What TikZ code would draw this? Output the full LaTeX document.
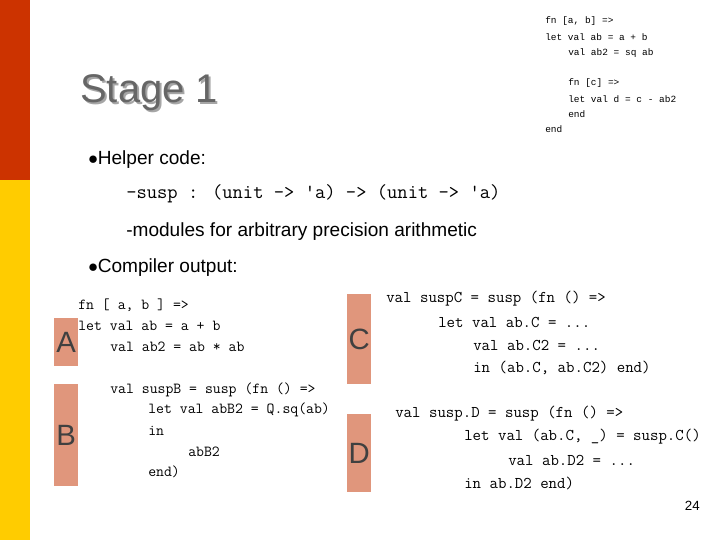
\documentclass[tikz,border=0pt]{standalone}
\usepackage{fontspec}
\setmainfont{Liberation Sans}
\setmonofont{Liberation Mono}
\newfontfamily\cm{Latin Modern Mono}
\definecolor{barred}{HTML}{CC3300}
\definecolor{baryel}{HTML}{FFCC00}
\definecolor{lbl}{HTML}{E0967C}
\begin{document}
\begin{tikzpicture}[x=0.75pt,y=-0.75pt,
  code/.style={anchor=west,inner sep=0,font=\cm\fontsize{11.5}{12}\selectfont},
  rcode/.style={anchor=west,inner sep=0,font=\cm\fontsize{12.3}{13}\selectfont},
  small/.style={anchor=west,inner sep=0,font=\ttfamily\fontsize{7.1}{8}\selectfont},
  body/.style={anchor=west,inner sep=0,font=\fontsize{14.3}{16}\selectfont},
  lab/.style={fill=lbl,inner sep=0,anchor=north west},
  labt/.style={font=\fontsize{22}{24}\selectfont,text=black!75}]
\useasboundingbox (0,0) rectangle (720,540);
\fill[barred] (0,0) rectangle (30,180);
\fill[baryel] (0,180) rectangle (30,540);
% title
\node[anchor=west,inner sep=0,text=black!35,font=\fontsize{30}{32}\selectfont] (sh) at (82,95) {Stage 1};
\node[anchor=west,inner sep=0,text=black!60,font=\fontsize{30}{32}\selectfont] (title) at (80,93) {Stage 1};
% top right code
\node[small] (r1) at (545,21) {fn [a, b] =>};
\node[small] (r2) at (545,37) {let val ab = a + b};
\node[small] (r3) at (568,53) {val ab2 = sq ab};
\node[small] (r4) at (568,83) {fn [c] =>};
\node[small] (r5) at (568,99) {let val d = c - ab2};
\node[small] (r6) at (568,114) {end};
\node[small] (r7) at (545,129) {end};
% bullets
\node[body] (b1) at (88,160) {$\bullet$Helper code:};
\node[anchor=west,inner sep=0,font=\cm\fontsize{15}{17}\selectfont] (hc) at (126,194) {-susp : (unit -> 'a) -> (unit -> 'a)};
\node[body] (m) at (126,232) {-modules for arbitrary precision arithmetic};
\node[body] (b2) at (88,268) {$\bullet$Compiler output:};
% labels
\node[lab,minimum width=18pt,minimum height=36pt] (A) at (54,318) {};
\node[labt] at (A.center) {A};
\node[lab,minimum width=18pt,minimum height=76.5pt] (B) at (54,384) {};
\node[labt] at (B.center) {B};
\node[lab,minimum width=18pt,minimum height=67.5pt] (C) at (347,294) {};
\node[labt] at (C.center) {C};
\node[lab,minimum width=18pt,minimum height=58.5pt] (D) at (347,414) {};
\node[labt] at (D.center) {D};
% left code
\node[code] (a1) at (78,305) {fn [ a, b ] =>};
\node[code] (a2) at (78,326) {let val ab = a + b};
\node[code] (a3) at (110,347) {val ab2 = ab * ab};
\node[code] (b1c) at (110,390) {val suspB = susp (fn () =>};
\node[code] (b2c) at (148,410) {let val abB2 = Q.sq(ab)};
\node[code] (b3c) at (148,431) {in};
\node[code] (b4c) at (188,452) {abB2};
\node[code] (b5c) at (148,472) {end)};
% right code
\node[rcode] (c1) at (386,299) {val suspC = susp (fn () =>};
\node[rcode] (c2) at (438,322) {let val ab.C = ...};
\node[rcode] (c3) at (473,345) {val ab.C2 = ...};
\node[rcode] (c4) at (473,368) {in (ab.C, ab.C2) end)};
\node[rcode] (d1) at (395,414) {val susp.D = susp (fn () =>};
\node[rcode] (d2) at (464,437) {let val (ab.C, \_) = susp.C()};
\node[rcode] (d3) at (508,460) {val ab.D2 = ...};
\node[rcode] (d4) at (464,483) {in ab.D2 end)};
\node[anchor=east,inner sep=0,font=\fontsize{10}{12}\selectfont] (pg) at (700,506) {24};
\end{tikzpicture}
\end{document}
